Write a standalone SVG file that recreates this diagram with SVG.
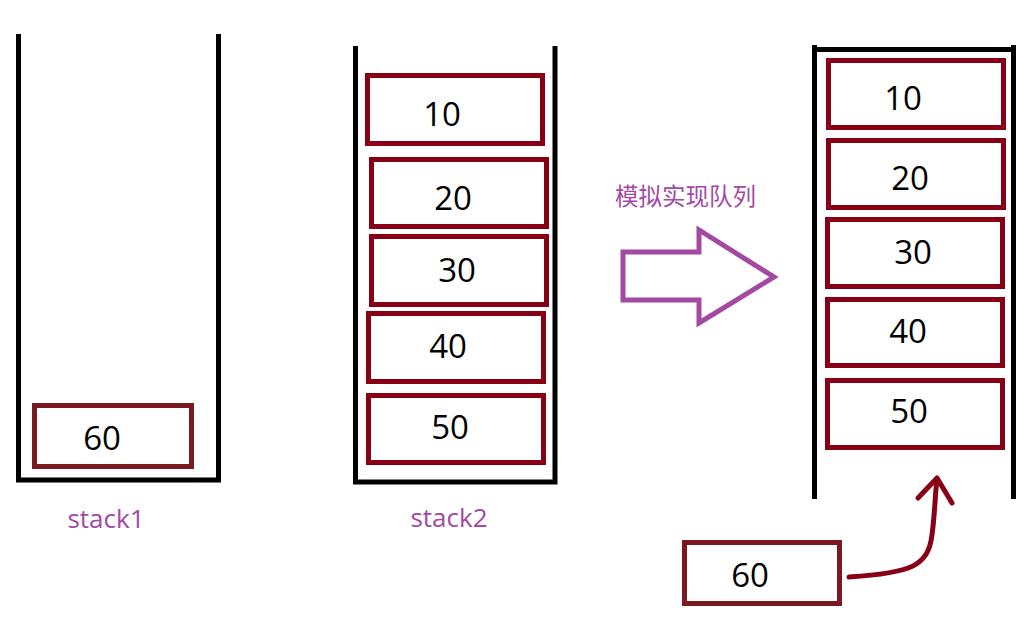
<svg xmlns="http://www.w3.org/2000/svg" width="1033" height="638" viewBox="0 0 1033 638">
<style>
.wall{fill:none;stroke:#000;stroke-width:5}
.box{fill:#fff;stroke:#880015;stroke-width:5}
.box2{fill:#fff;stroke:#7c1820;stroke-width:5}
.num{font-family:"Open Sans","Noto Sans",sans-serif;font-size:33px;fill:#000;text-anchor:middle}
.lbl{font-family:"Open Sans","Noto Sans",sans-serif;font-size:26px;fill:#a349a4;text-anchor:middle}
.cn{font-family:"Noto Sans CJK SC",sans-serif;font-size:23.5px;fill:#a349a4}
</style>
<rect width="1033" height="638" fill="#fff"/>
<g id="stack1">
<polyline class="wall" points="18.5,34 18.5,480 218.5,480 218.5,34"/>
<text class="lbl" x="106" y="528">stack1</text>
</g>
<g id="s1-60">
<rect class="box2" x="34.5" y="405.5" width="157" height="61"/>
<text class="num" x="102" y="450">60</text>
</g>
<g id="stack2">
<polyline class="wall" points="355.5,46 355.5,482 555,482 555,46"/>
<text class="lbl" x="449" y="527">stack2</text>
</g>
<g id="s2-10"><rect class="box" x="367.5" y="75.5" width="175" height="68"/><text class="num" x="442" y="126">10</text></g>
<g id="s2-20"><rect class="box" x="371.5" y="159.5" width="175" height="67"/><text class="num" x="453" y="210">20</text></g>
<g id="s2-30"><rect class="box" x="371.5" y="236.5" width="175" height="68"/><text class="num" x="457" y="282">30</text></g>
<g id="s2-40"><rect class="box" x="368.5" y="313.5" width="175" height="68"/><text class="num" x="448" y="358">40</text></g>
<g id="s2-50"><rect class="box" x="368.5" y="395.5" width="175" height="67"/><text class="num" x="450" y="439">50</text></g>
<g id="transform">
<text class="cn" x="615" y="205">模拟实现队列</text>
<polygon points="623,252 699,252 699,230 774,277 699,323 699,300 623,300" fill="none" stroke="#a349a4" stroke-width="5"/>
</g>
<g id="queue">
<line class="wall" x1="814.5" y1="45" x2="814.5" y2="499"/>
<line class="wall" x1="1013.5" y1="45" x2="1013.5" y2="499"/>
<line class="wall" x1="812" y1="49.5" x2="1016" y2="49.5"/>
</g>
<g id="q-10"><rect class="box" x="828.5" y="60.5" width="175" height="67"/><text class="num" x="903" y="110">10</text></g>
<g id="q-20"><rect class="box" x="828.5" y="140.5" width="175" height="67"/><text class="num" x="910" y="190">20</text></g>
<g id="q-30"><rect class="box" x="827.5" y="219.5" width="175" height="67"/><text class="num" x="913" y="264">30</text></g>
<g id="q-40"><rect class="box" x="827.5" y="299.5" width="175" height="66"/><text class="num" x="908" y="343">40</text></g>
<g id="q-50"><rect class="box" x="827.5" y="380.5" width="175" height="67"/><text class="num" x="909" y="423">50</text></g>
<g id="new-60"><rect class="box2" x="684.5" y="542.5" width="155" height="61"/><text class="num" x="750" y="587">60</text></g>
<g id="connectors" fill="none" stroke="#880015" stroke-width="5" stroke-linecap="round" stroke-linejoin="round">
<path d="M849,577 C912,573 928,566 932,535 C935,512 935,495 937,479"/>
<polyline points="918,498 937,478 952,503"/>
</g>
</svg>
